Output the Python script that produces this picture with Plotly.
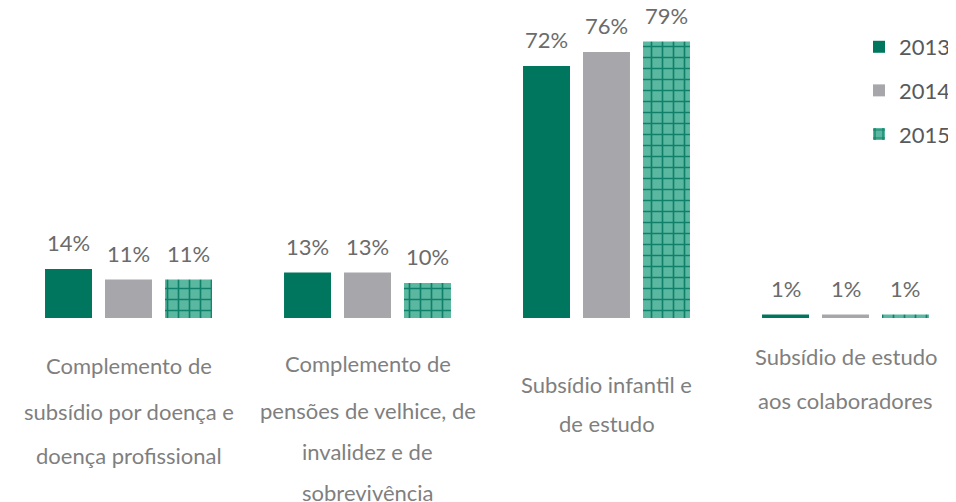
import plotly.graph_objects as go

categories = ["Complemento de subsídio por doença e doença profissional",
              "Complemento de pensões de velhice, de invalidez e de sobrevivência",
              "Subsídio infantil e de estudo",
              "Subsídio de estudo aos colaboradores"]
category_lines = [["Complemento de", "subsídio por doença e", "doença profissional"],
                  ["Complemento de", "pensões de velhice, de", "invalidez e de", "sobrevivência"],
                  ["Subsídio infantil e", "de estudo"],
                  ["Subsídio de estudo", "aos colaboradores"]]
years = ["2013", "2014", "2015"]
values = {
    "2013": [14, 13, 72, 1],
    "2014": [11, 13, 76, 1],
    "2015": [11, 10, 79, 1],
}

FONT = "Lato"
FS = 22
PAGE_OFF = 8          # page body margin
W, H = 956 - PAGE_OFF, 502 - PAGE_OFF
BASE = 318 - PAGE_OFF  # baseline in figure pixels
PLOT_H = BASE
PX_PER_UNIT = 3.5
BARGAP = 0.247
BARGROUPGAP = 0.217

fig = go.Figure()
colors = {"2013": "#00765f", "2014": "#a7a7ab"}
for y in years:
    if y == "2015":
        marker = dict(color="#4fae96",
                      pattern=dict(shape="+", fgcolor="#11806a", bgcolor="#5ab8a0",
                                   size=11, solidity=0.28, fillmode="replace"),
                      line=dict(width=0))
    else:
        marker = dict(color=colors[y], line=dict(width=0))
    fig.add_trace(go.Bar(name=y, x=categories, y=values[y], marker=marker,
                         legendgroup=y))

# value labels
slot = (1 - BARGAP) / 3
for i, y in enumerate(years):
    for j, c in enumerate(categories):
        fig.add_annotation(x=j + (i - 1) * slot, y=values[y][j], xref="x", yref="y",
                           text=f"{values[y][j]}%", showarrow=False,
                           yanchor="bottom", yshift=11,
                           font=dict(family=FONT, size=FS, color="#6b6b6b"))

# category labels (page pixel centres of each line)
line_px = [[365, 411, 455], [363, 410, 452, 492], [384, 424], [356, 400]]
for j, lines in enumerate(category_lines):
    for k, t in enumerate(lines):
        fig.add_annotation(x=j, y=(BASE - (line_px[j][k] - PAGE_OFF)) / PLOT_H,
                           xref="x", yref="paper",
                           text=t, showarrow=False, yanchor="middle",
                           font=dict(family=FONT, size=FS, color="#7f7f7f"))

unit = 239.0
x0 = -(128.5 - PAGE_OFF) / unit
fig.update_layout(
    width=W, height=H,
    margin=dict(l=0, r=0, t=0, b=H - BASE, autoexpand=False),
    plot_bgcolor="white", paper_bgcolor="white",
    barmode="group", bargap=BARGAP, bargroupgap=BARGROUPGAP,
    xaxis=dict(range=[x0, x0 + W / unit], showticklabels=False, showgrid=False,
               zeroline=False, showline=False, ticks=""),
    yaxis=dict(range=[0, PLOT_H / PX_PER_UNIT], visible=False),
    legend=dict(x=1.0, y=0.942, xanchor="right", yanchor="top",
                font=dict(family=FONT, size=FS, color="#595959"),
                tracegroupgap=12, bgcolor="rgba(0,0,0,0)"),
    font=dict(family=FONT),
)
fig.write_html("out.html")
